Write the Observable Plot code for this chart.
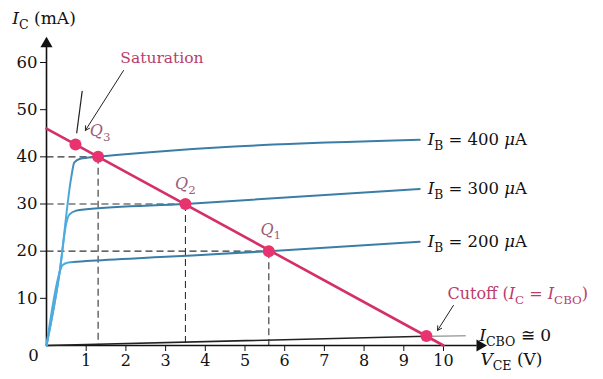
<!DOCTYPE html>
<html><head><meta charset="utf-8">
<script src="https://cdn.jsdelivr.net/npm/d3@7"></script>
<script src="https://cdn.jsdelivr.net/npm/@observablehq/plot@0.6"></script>
<style>body{margin:0;background:#fff}</style>
</head><body><div id="chart"></div>
<script>
// Output characteristic curves (VCE in V, IC in mA)
const curveNames = ["IB200", "IB300", "IB400"];
const vce200 = [0, 0.33, 0.4, 0.55, 1.0, 3.0, 5.6, 9.4];
const ic200  = [0, 15.5, 17, 17.6, 17.9, 18.8, 20, 22];
const vce300 = [0, 0.33, 0.5, 0.58, 0.75, 1.0, 3.5, 9.4];
const ic300  = [0, 15.5, 26, 27.8, 28.6, 28.9, 30, 33.2];
const vce400 = [0, 0.33, 0.62, 0.7, 0.85, 1.3, 9.4];
const ic400  = [0, 15.5, 35.5, 38.8, 39.6, 40, 43.6];
const curveLabels = ["*I*_{B} = 200 *μ*A", "*I*_{B} = 300 *μ*A", "*I*_{B} = 400 *μ*A"];
// ICBO curve
const vceCbo = [0, 9.55];
const icCbo  = [0, 1.95];
const vceCboTail = [9.55, 10.55];
const icCboTail  = [1.95, 2.05];
// Load line
const loadV = [0, 10];
const loadI = [46, 0];
// Q points
const qNames = ["*Q*_{3}", "*Q*_{2}", "*Q*_{1}"];
const qV = [1.3, 3.5, 5.6];
const qI = [40, 30, 20];
const qLabelV = [1.35, 3.5, 5.65];
const qLabelI = [45.5, 34.3, 24.6];
// Saturation and cutoff points
const satV = 0.73, satI = 42.6;
const cutV = 9.57, cutI = 2.0;
// Ticks
const xTicks = [1, 2, 3, 4, 5, 6, 7, 8, 9, 10];
const yTicks = [10, 20, 30, 40, 50, 60];

const curves = [];
[[vce200, ic200], [vce300, ic300], [vce400, ic400]].forEach(([vs, is], k) =>
  vs.forEach((v, i) => curves.push({s: curveNames[k], v, i: is[i]})));
const ends = curveNames.map((s, k) => {
  const vs = [vce200, vce300, vce400][k], is = [ic200, ic300, ic400][k];
  return {v: vs[vs.length - 1], i: is[is.length - 1], label: curveLabels[k]};
});
const qs = qV.map((v, k) => ({v, i: qI[k], lv: qLabelV[k], li: qLabelI[k], name: qNames[k]}));
const cbo = vceCbo.map((v, k) => ({v, i: icCbo[k]}));
const cboTail = vceCboTail.map((v, k) => ({v, i: icCboTail[k]}));
const load = loadV.map((v, k) => ({v, i: loadI[k]}));

const BLUE = "#3a7ea8", LIGHTBLUE = "#4fabde", PINK = "#d42f68", TPINK = "#b93d6c", QCOL = "#9a6078";
const serif = "DejaVu Serif";

const chart = Plot.plot({
  width: 603, height: 379,
  marginLeft: 46, marginRight: 160, marginTop: 62, marginBottom: 34,
  x: {domain: [0, 10]},
  y: {domain: [0, 60]},
  style: {fontFamily: serif, fontSize: "16px", background: "#fff", overflow: "visible", color: "#111"},
  marks: [
    // dashed guides
    Plot.link(qs, {x1: 0, y1: "i", x2: "v", y2: "i", stroke: "#333", strokeWidth: 1.1, strokeDasharray: "7,4"}),
    Plot.link(qs, {x1: "v", y1: "i", x2: "v", y2: 0, stroke: "#333", strokeWidth: 1.1, strokeDasharray: "7,4"}),
    // axes
    Plot.ruleY([0], {x1: 0, x2: 10.85, stroke: "#111", strokeWidth: 1.6}),
    Plot.ruleX([0], {y1: 0, y2: 63.5, stroke: "#111", strokeWidth: 1.6}),
    Plot.dot([{v: 10.92, i: 0}], {x: "v", y: "i", symbol: "triangle", rotate: 90, r: 4.5, fill: "#111"}),
    Plot.dot([{v: 0, i: 64.0}], {x: "v", y: "i", symbol: "triangle", r: 4.5, fill: "#111"}),
    Plot.axisX(xTicks, {tickSize: 6, tickPadding: 3, fontSize: 16, fontFamily: serif, label: null, stroke: "#111"}),
    Plot.axisY(yTicks, {tickSize: 6, tickPadding: 3, fontSize: 16.5, fontFamily: serif, label: null, stroke: "#111"}),
    Plot.text([{v: -0.33, i: -2.1}], {x: "v", y: "i", text: () => "0", fontSize: 16.5}),
    // ICBO
    Plot.line(cbo, {x: "v", y: "i", stroke: "#222", strokeWidth: 1.6}),
    Plot.line(cboTail, {x: "v", y: "i", stroke: "#777", strokeWidth: 1}),
    // characteristic curves
    Plot.line(curves, {x: "v", y: "i", z: "s", stroke: "url(#steep)", strokeWidth: 2, curve: "monotone-x"}),
    Plot.text(ends, {x: "v", y: "i", text: "label", dx: 8, textAnchor: "start", fontSize: 16.5}),
    // saturation marker lines
    Plot.link([{x1: 0.9, y1: 54, x2: 0.76, y2: 45}], {x1: "x1", y1: "y1", x2: "x2", y2: "y2", stroke: "#222", strokeWidth: 1.2}),
    Plot.arrow([{x1: 1.94, y1: 58.3, x2: 0.98, y2: 45.6}], {x1: "x1", y1: "y1", x2: "x2", y2: "y2", stroke: "#222", strokeWidth: 1, headLength: 7}),
    Plot.arrow([{x1: 10.25, y1: 8.5, x2: 9.85, y2: 3.2}], {x1: "x1", y1: "y1", x2: "x2", y2: "y2", stroke: "#222", strokeWidth: 1, headLength: 7}),
    // load line
    Plot.line(load, {x: "v", y: "i", stroke: PINK, strokeWidth: 2.6}),
    // points
    Plot.dot(qs, {x: "v", y: "i", r: 6, fill: "#e8336f"}),
    Plot.dot([{v: satV, i: satI}, {v: cutV, i: cutI}], {x: "v", y: "i", r: 6, fill: "#e8336f"}),
    Plot.text(qs, {x: "lv", y: "li", text: "name", fill: QCOL, fontSize: 16}),
    // annotations
    Plot.text([{v: 1.86, i: 61.0}], {x: "v", y: "i", text: () => "Saturation", textAnchor: "start", fill: TPINK, fontSize: 15.5}),
    Plot.text([{v: 10.1, i: 11.0}], {x: "v", y: "i", text: () => "Cutoff (*I*_{C} = *I*_{CBO})", textAnchor: "start", fill: TPINK, fontSize: 16}),
    Plot.text([{v: 10.9, i: 2.1}], {x: "v", y: "i", text: () => "*I*_{CBO} ≅ 0", textAnchor: "start", fontSize: 17}),
    Plot.text([{v: 10.93, i: -3.0}], {x: "v", y: "i", text: () => "*V*_{CE} (V)", textAnchor: "start", fontSize: 17}),
    Plot.text([{v: -0.86, i: 69.3}], {x: "v", y: "i", text: () => "*I*_{C} (mA)", textAnchor: "start", fontSize: 17})
  ]
});
document.getElementById("chart").appendChild(chart);

// gradient: light blue on the steep (saturation) part, darker on the flat part
const x0 = 46, xk = 46 + 0.75 * 39.7;
const grad = d3.select(chart).insert("defs", ":first-child").append("linearGradient")
  .attr("id", "steep").attr("gradientUnits", "userSpaceOnUse")
  .attr("x1", x0).attr("y1", 0).attr("x2", xk).attr("y2", 0);
grad.append("stop").attr("offset", 0).attr("stop-color", LIGHTBLUE);
grad.append("stop").attr("offset", 0.72).attr("stop-color", LIGHTBLUE);
grad.append("stop").attr("offset", 1).attr("stop-color", BLUE);

// turn the small markup (*italic*, _{sub}) into tspans
d3.select(chart).selectAll("text").each(function () {
  const el = this;
  const s = el.textContent;
  if (!/[*_]/.test(s)) return;
  const fs = parseFloat(getComputedStyle(el).fontSize) || 16;
  const shift = fs * 0.3;
  el.textContent = "";
  const re = /\*([^*]+)\*|_\{([^}]+)\}|([^*_]+)/g;
  let m, lowered = false;
  while ((m = re.exec(s))) {
    const t = d3.select(el).append("tspan");
    if (m[2] !== undefined) {
      t.text(m[2]).attr("font-size", fs * 0.74);
      if (!lowered) { t.attr("dy", shift); lowered = true; }
    } else {
      t.text(m[1] !== undefined ? m[1] : m[3]);
      if (m[1] !== undefined) t.attr("font-style", "italic");
      if (lowered) { t.attr("dy", -shift); lowered = false; }
    }
  }
});
</script>
</body></html>
